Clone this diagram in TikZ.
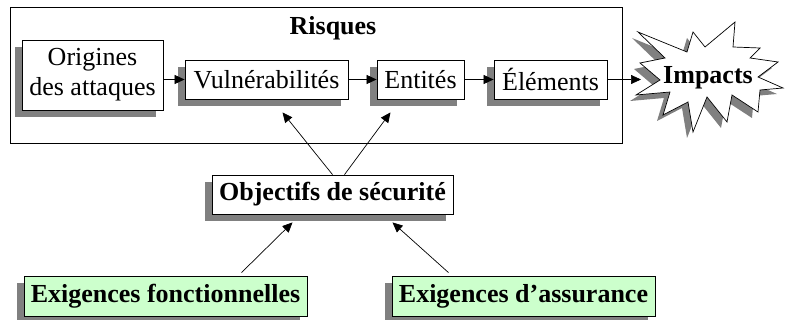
\documentclass[tikz,border=0pt]{standalone}
\usepackage{fontspec}
\setmainfont{Liberation Serif}
\usetikzlibrary{shadows,arrows.meta}
\definecolor{reqgreen}{HTML}{CCFFCC}

\begin{document}
\begin{tikzpicture}[x=1pt,y=-1pt]
      %boxes and links
      \tikzset{
      blk/.style={draw, fill=white, line width=0.8pt, inner sep=0pt,
        minimum height=39pt, align=center,
        drop shadow={shadow xshift=-7pt, shadow yshift=-7pt, fill=gray, opacity=1},
        font=\fontsize{26}{30}\selectfont},
      req/.style={blk, fill=reqgreen, minimum height=40pt,
        font=\fontsize{26}{30}\selectfont\bfseries},
      lnk/.style={-{Triangle[length=10pt,width=9pt]}, line width=0.7pt},
      }
      \useasboundingbox (0,0) rectangle (792,320);

      %Risques frame
      \draw[line width=0.9pt] (10,7) rectangle (622,143);
      \node[font=\fontsize{26}{30}\selectfont\bfseries] (risq) at (333,28) {Risques};
      \node[blk, minimum width=141pt, minimum height=70pt] (orig) at (92.5,75) {Origines\\des attaques};
      \node[blk, minimum width=163pt] (vuln) at (266.5,79.5) {Vulnérabilités};
      \node[blk, minimum width=87pt] (ent) at (420.5,79.5) {Entités};
      \node[blk, minimum width=113pt] (elem) at (550.5,79.5) {Éléments};

      %Impacts star
      \def\starpath{(638,32) -- (665,58) -- (640,63) -- (660,80) -- (636,95) -- (670,92)
        -- (663,115) -- (688,102) -- (693,132) -- (707,97) -- (727,122) -- (732,95)
        -- (758,112) -- (760,90) -- (783,88) -- (758,77) -- (778,62) -- (750,58)
        -- (760,48) -- (733,47) -- (735,22) -- (705,47) -- (693,32) -- (687,52) -- cycle}
      \fill[gray, shift={(-6,6)}] \starpath;
      \draw[fill=white, line width=0.7pt] \starpath;
      \node[inner sep=0pt, font=\fontsize{26}{30}\selectfont\bfseries] (imp) at (708,78) {Impacts};
      \coordinate (impin) at (641,79.5);

      %objectives and requirements
      \node[blk, minimum width=241pt, font=\fontsize{26}{30}\selectfont\bfseries] (obj) at (332.5,194.5) {Objectifs de sécurité};
      \node[req, minimum width=283pt] (fonct) at (165.5,296) {Exigences fonctionnelles};
      \node[req, minimum width=263pt] (assur) at (523.5,296) {Exigences d’assurance};

      %links
      \draw[lnk] (orig.east |- vuln.west) -- (vuln.west);
      \draw[lnk] (vuln) -- (ent);
      \draw[lnk] (ent) -- (elem);
      \draw[lnk] (elem.east) -- (impin);
      \draw[lnk] (obj.north) -- ([xshift=16pt,yshift=-13pt]vuln.south);
      \draw[lnk] ([xshift=12pt]obj.north) -- ([xshift=-30pt,yshift=-13pt]ent.south);
      \draw[lnk] ([xshift=76pt,yshift=3pt]fonct.north) -- ([xshift=-40pt,yshift=-8pt]obj.south);
      \draw[lnk] ([xshift=-75pt,yshift=3pt]assur.north) -- ([xshift=60pt,yshift=-8pt]obj.south);
\end{tikzpicture}
\end{document}
